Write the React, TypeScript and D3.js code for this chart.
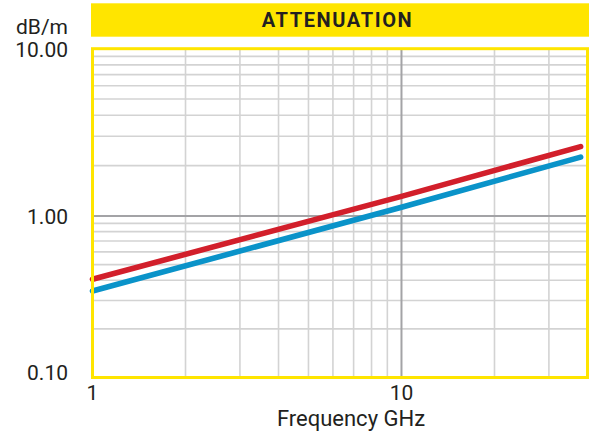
import React from "react";
import * as d3 from "d3";

const title = "ATTENUATION";
const yUnit = "dB/m";
const xLabel = "Frequency GHz";
const yTicks = [0.1, 1, 10];
const yTickLabels = ["0.10", "1.00", "10.00"];
const xTicks = [1, 10];
const xTickLabels = ["1", "10"];
const freq = [1, 10, 38];
const redSeries = [0.406, 1.31, 2.6];
const blueSeries = [0.343, 1.128, 2.25];

const W = 589;
const H = 433;
const left = 92.5;
const right = 587.5;
const top = 48.7;
const bottom = 377.5;

export default function App() {
  const x = d3.scaleLog().domain([1, 40]).range([left, right]);
  const y = d3.scaleLog().domain([0.1, 1, 10]).range([bottom, 216, top]);

  const xMinor: number[] = [];
  for (const d of [1, 10]) for (let k = 2; k <= 9; k++) if (d * k < 40) xMinor.push(d * k);
  const yMinor: number[] = [];
  for (const d of [0.1, 1]) for (let k = 2; k <= 9; k++) yMinor.push(+(d * k).toFixed(2));

  const line = d3
    .line<number>()
    .x((_, i) => x(freq[i]))
    .y((v) => y(v));

  const font = "Roboto, 'Noto Sans', sans-serif";
  const textColor = "#231f20";
  const yellow = "#ffe500";

  return (
    <svg
      width={W}
      height={H}
      style={{ position: "absolute", left: 0, top: 0, background: "#fff" }}
      fontFamily={font}
    >
      <rect x={91} y={3.3} width={W - 91} height={33.4} fill={yellow} />
      <text
        x={337.5}
        y={20}
        dy="0.36em"
        textAnchor="middle"
        fontSize={20}
        fontWeight={700}
        letterSpacing={1.6}
        fill={textColor}
      >
        {title}
      </text>

      {yMinor.map((v) => (
        <line key={"ym" + v} x1={left} x2={right} y1={y(v)} y2={y(v)} stroke="#d3d3d3" strokeWidth={1.6} />
      ))}
      {xMinor.map((v) => (
        <line key={"xm" + v} x1={x(v)} x2={x(v)} y1={top} y2={bottom} stroke="#d3d3d3" strokeWidth={1.6} />
      ))}
      <line x1={left} x2={right} y1={y(1)} y2={y(1)} stroke="#a3a3a6" strokeWidth={2} />
      <line x1={x(10)} x2={x(10)} y1={top} y2={bottom} stroke="#a3a3a6" strokeWidth={2} />

      <path d={line(redSeries) || ""} fill="none" stroke="#d21f2b" strokeWidth={5.6} strokeLinecap="round" />
      <path d={line(blueSeries) || ""} fill="none" stroke="#0a93c9" strokeWidth={5.6} strokeLinecap="round" />

      <rect x={left} y={top} width={right - left} height={bottom - top} fill="none" stroke={yellow} strokeWidth={3} />

      <text x={68} y={33.5} textAnchor="end" fontSize={21} fill={textColor}>
        {yUnit}
      </text>
      {yTicks.map((v, i) => (
        <text
          key={"yt" + v}
          x={68}
          y={y(v) - (i === 0 ? 5 : 0) + (i === 2 ? 1 : 0)}
          dy="0.36em"
          textAnchor="end"
          fontSize={21}
          fill={textColor}
        >
          {yTickLabels[i]}
        </text>
      ))}
      {xTicks.map((v, i) => (
        <text key={"xt" + v} x={x(v)} y={400} textAnchor="middle" fontSize={21} fill={textColor}>
          {xTickLabels[i]}
        </text>
      ))}
      <text x={351} y={426} textAnchor="middle" fontSize={22} fill={textColor}>
        {xLabel}
      </text>
    </svg>
  );
}
